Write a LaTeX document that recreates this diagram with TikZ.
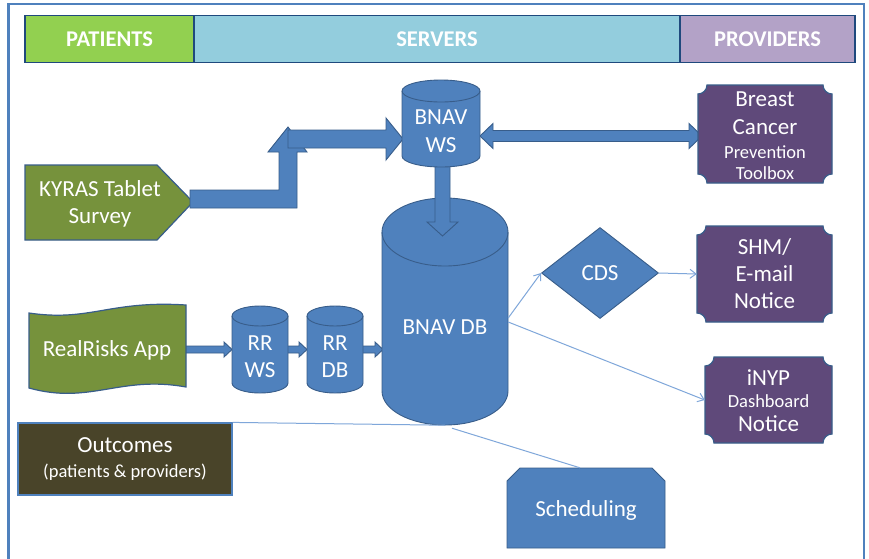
\documentclass[tikz,border=0pt]{standalone}
\usepackage{fontspec}
\setmainfont{Carlito}
\usetikzlibrary{arrows.meta,calc,shapes.geometric}
\definecolor{blk}{HTML}{4F81BD}
\definecolor{blkedge}{HTML}{385D8A}
\definecolor{purp}{HTML}{5F497A}
\definecolor{grn}{HTML}{76923C}
\definecolor{olv}{HTML}{494429}
\definecolor{hpat}{HTML}{92D050}
\definecolor{hser}{HTML}{93CDDD}
\definecolor{hpro}{HTML}{B3A2C7}
\definecolor{hedge}{HTML}{1F497D}
\definecolor{thinc}{HTML}{7FA7DA}
\definecolor{framec}{HTML}{4F81BD}
\newcommand\cylbody[5]{(#1-#4,#2) -- (#1-#4,#3) arc[start angle=180,end angle=360,x radius=#4pt,y radius=#5pt] -- (#1+#4,#2) arc[start angle=0,end angle=180,x radius=#4pt,y radius=#5pt] -- cycle}
\newcommand\cyltop[4]{(#1-#3,#2) arc[start angle=180,end angle=360,x radius=#3pt,y radius=#4pt]}
\newcommand\plaquepath[4]{(#1+9,#2) -- (#3-9,#2) arc[start angle=180,end angle=270,radius=9pt] -- (#3,#4-9) arc[start angle=90,end angle=180,radius=9pt] -- (#1+9,#4) arc[start angle=0,end angle=90,radius=9pt] -- (#1,#2+9) arc[start angle=270,end angle=360,radius=9pt] -- cycle}
\newcommand\smtxt[1]{{\fontsize{18.5}{21}\selectfont #1}}
\tikzset{
  blockshape/.style={fill=blk, draw=blkedge, line width=0.9pt, line join=miter},
  purpshape/.style={fill=purp, draw=blkedge, line width=1.2pt},
  grnshape/.style={fill=grn, draw=blkedge, line width=1.2pt},
  lbl/.style={text=white, font=\fontsize{23}{27}\selectfont, align=center, inner sep=0pt},
  hdr/.style={draw=hedge, line width=1.5pt, text=white, font=\bfseries\fontsize{22.5}{26}\selectfont, minimum height=47pt, inner sep=0pt},
  thinline/.style={draw=thinc, line width=1pt},
  thinarrow/.style={thinline, -{Straight Barb[length=6pt,width=9pt]}}
}
\begin{document}
\begin{tikzpicture}[x=1pt,y=-1pt]
\useasboundingbox (0,0) rectangle (869,558);
\fill[white] (0,0) rectangle (869,558);
% outer frame
\draw[framec, line width=2.5pt] (8.5,4) rectangle (864,580);
% header
\node[hdr, fill=hpat, minimum width=169pt] (pat) at (109.5,39) {PATIENTS};
\node[hdr, fill=hser, minimum width=486pt] (ser) at (437,39) {SERVERS};
\node[hdr, fill=hpro, minimum width=175pt] (pro) at (767.5,39) {PROVIDERS};

% small RR arrows
\path[blockshape] (180,346) -- (224,346) -- (224,342) -- (232,349.5) -- (224,357) -- (224,353) -- (180,353) -- cycle;
\path[blockshape] (285,346) -- (299,346) -- (299,342) -- (307,349.5) -- (299,357) -- (299,353) -- (285,353) -- cycle;
\path[blockshape] (360,346) -- (375,346) -- (375,342) -- (383,349.5) -- (375,357) -- (375,353) -- (360,353) -- cycle;

% KYRAS
\path[grnshape] (25,165) -- (157,165) -- (193,202) -- (157,240) -- (25,240) -- cycle;
\node[lbl, minimum width=150pt, minimum height=75pt] (kyras) at (100,204) {KYRAS Tablet\\Survey};

% RealRisks
\path[grnshape] (29,313) .. controls (90,322) and (110,300) .. (186,305) -- (186,387) .. controls (120,375) and (90,405) .. (29,388) -- cycle;
\node[lbl, minimum width=157pt, minimum height=80pt] (rr) at (107,350) {RealRisks App};

% BNAV DB
\path[blockshape] \cylbody{445}{232}{391}{63}{34};
\draw[blkedge, line width=0.9pt] \cyltop{445}{232}{63}{34};
\node[lbl, minimum width=126pt, minimum height=196pt] (bnavdb) at (445,327) {BNAV DB};

% arrow WS -> DB
\path[blockshape] (435,160) -- (450,160) -- (450,222) -- (458,222) -- (442.5,236) -- (427,222) -- (435,222) -- cycle;

% KYRAS arrows
\path[blockshape] (190,190) -- (279,190) -- (279,152) -- (268,152) -- (288,127) -- (307,152) -- (297,152) -- (297,208) -- (190,208) -- cycle;
\path[blockshape] (288,130) -- (386,130) -- (386,118) -- (403,139) -- (386,160) -- (386,148) -- (288,148) -- cycle;

% double arrow
\path[blockshape] (480,136) -- (493,123.5) -- (493,130.5) -- (689,130.5) -- (689,123.5) -- (702,136) -- (689,148.5) -- (689,141.5) -- (493,141.5) -- (493,148.5) -- cycle;

% BNAV WS
\path[blockshape] \cylbody{441}{91}{156}{39}{11};
\draw[blkedge, line width=0.9pt] \cyltop{441}{91}{39}{11};
\node[lbl, font=\fontsize{23}{28}\selectfont, minimum width=78pt, minimum height=60pt] (bnavws) at (441,131) {BNAV\\WS};

% RR WS / RR DB
\path[blockshape] \cylbody{260}{316}{383}{28}{10};
\draw[blkedge, line width=0.9pt] \cyltop{260}{316}{28}{10};
\node[lbl, minimum width=56pt, minimum height=60pt] (rrws) at (260,356.5) {RR\\WS};
\path[blockshape] \cylbody{335}{316}{383}{28}{10};
\draw[blkedge, line width=0.9pt] \cyltop{335}{316}{28}{10};
\node[lbl, minimum width=56pt, minimum height=60pt] (rrdb) at (335,356.5) {RR\\DB};

% purple boxes
\path[purpshape] \plaquepath{698}{85}{832}{183};
\node[lbl, minimum width=134pt, minimum height=98pt] (breast) at (765,136) {Breast\\[1pt]Cancer\\[-3pt]\smtxt{Prevention}\\[-6pt]\smtxt{Toolbox}};
\path[purpshape] \plaquepath{697}{226}{832}{322};
\node[lbl, minimum width=135pt, minimum height=96pt] (shm) at (764.5,274) {SHM/\\E-mail\\Notice};
\path[purpshape] \plaquepath{705}{357}{832}{443};
\node[lbl, minimum width=127pt, minimum height=86pt] (inyp) at (768.5,401) {iNYP\\[-5pt]\smtxt{Dashboard}\\[-3pt]Notice};

% CDS
\node[diamond, aspect=1.29, fill=blk, draw=blkedge, line width=0.9pt, minimum width=117pt, minimum height=91pt, inner sep=0pt, text=white, font=\fontsize{23}{27}\selectfont] (cds) at (600,273) {CDS};

% Outcomes
\node[fill=olv, draw=blk, line width=1.2pt, minimum width=214pt, minimum height=72pt, text=white, align=center, inner sep=0pt, font=\fontsize{23}{27}\selectfont] (outc) at (125,459) {Outcomes\\[-2pt]\smtxt{(patients \& providers)}};

% Scheduling
\path[blockshape] (507,548) -- (507,481) -- (520,468) -- (652,468) -- (665,481) -- (665,548) -- cycle;
\node[lbl, minimum width=158pt, minimum height=80pt] (sched) at (586,510) {Scheduling};

% thin connectors
\draw[thinarrow] ($(bnavdb.east)+(0,-9)$) -- (cds.west);
\draw[thinarrow] (cds.east) -- (shm.west);
\draw[thinarrow] ($(bnavdb.east)+(0,-5)$) -- ($(inyp.west)+(0,-1)$);
\draw[thinline] (outc.north east) -- (bnavdb.south);
\draw[thinline] ($(bnavdb.south)+(7,3)$) -- ($(sched.north)+(-6,-2)$);
\end{tikzpicture}
\end{document}
